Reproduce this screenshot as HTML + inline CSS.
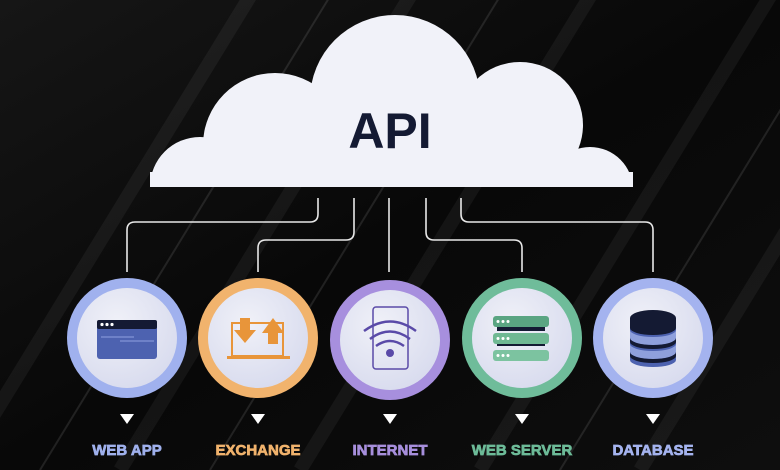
<!DOCTYPE html>
<html><head><meta charset="utf-8"><style>
html,body{margin:0;padding:0;width:780px;height:470px;overflow:hidden;background:#070707}
svg{display:block}
</style></head><body>
<svg width="780" height="470" viewBox="0 0 780 470" xmlns="http://www.w3.org/2000/svg">
<defs>
<linearGradient id="bg" x1="0" y1="0" x2="1" y2="1">
<stop offset="0" stop-color="#161616"/><stop offset="0.5" stop-color="#080808"/><stop offset="1" stop-color="#0e0e0e"/>
</linearGradient>
<radialGradient id="inner" cx="0.4" cy="0.35" r="0.7">
<stop offset="0" stop-color="#f0f1f8"/><stop offset="1" stop-color="#d8dbee"/>
</radialGradient>
<clipPath id="cc"><rect x="140" y="0" width="500" height="187"/></clipPath>
</defs>
<rect width="780" height="470" fill="url(#bg)"/>
<g stroke="#ffffff" stroke-opacity="0.05" stroke-width="14">
<line x1="-40" y1="470" x2="260" y2="-20"/>
<line x1="120" y1="470" x2="420" y2="-20"/>
<line x1="300" y1="470" x2="600" y2="-20"/>
<line x1="480" y1="470" x2="780" y2="-20"/>
<line x1="640" y1="470" x2="940" y2="-20"/>
</g>
<g stroke="#ffffff" stroke-opacity="0.1" stroke-width="2">
<line x1="40" y1="470" x2="340" y2="-20"/>
<line x1="210" y1="470" x2="510" y2="-20"/>
<line x1="560" y1="470" x2="860" y2="-20"/>
</g>
<!-- cloud -->
<g fill="#f1f2f9" clip-path="url(#cc)">
<circle cx="200" cy="187" r="50"/>
<circle cx="275" cy="145" r="72"/>
<circle cx="395" cy="100" r="85"/>
<circle cx="520" cy="125" r="63"/>
<circle cx="590" cy="190" r="43"/>
<polygon points="200,187 275,145 395,100 520,125 590,190"/>
<rect x="150" y="172" width="483" height="15"/>
</g>
<text x="390" y="148" text-anchor="middle" font-size="50" fill="#141a33" font-family="Liberation Sans, sans-serif" font-weight="bold">API</text>
<!-- connectors -->
<g fill="none" stroke="#e8e8e8" stroke-width="1.6">
<path d="M318 198 V214 Q318 222 310 222 H135 Q127 222 127 230 V272"/>
<path d="M354 198 V232 Q354 240 346 240 H266 Q258 240 258 248 V272"/>
<path d="M389 198 V272"/>
<path d="M426 198 V232 Q426 240 434 240 H514 Q522 240 522 248 V272"/>
<path d="M461 198 V214 Q461 222 469 222 H645 Q653 222 653 230 V272"/>
</g>
<!-- circles -->
<g>
<circle cx="127" cy="338" r="60" fill="#a0b1ee"/><circle cx="127" cy="338" r="50" fill="url(#inner)"/>
<circle cx="258" cy="338" r="60" fill="#f1b36d"/><circle cx="258" cy="338" r="50" fill="url(#inner)"/>
<circle cx="390" cy="340" r="60" fill="#a78fde"/><circle cx="390" cy="340" r="50" fill="url(#inner)"/>
<circle cx="522" cy="338" r="60" fill="#6fbc9a"/><circle cx="522" cy="338" r="50" fill="url(#inner)"/>
<circle cx="653" cy="338" r="60" fill="#a4b3ef"/><circle cx="653" cy="338" r="50" fill="url(#inner)"/>
</g>
<!-- web app icon -->
<rect x="97" y="320" width="60" height="39" rx="3" fill="#4d62b0"/>
<rect x="97" y="320" width="60" height="9" rx="2" fill="#141a33"/>
<circle cx="102" cy="324.5" r="1.6" fill="#fff"/><circle cx="107" cy="324.5" r="1.6" fill="#fff"/><circle cx="112" cy="324.5" r="1.6" fill="#fff"/>
<line x1="101" y1="337" x2="134" y2="337" stroke="#8fa0e0" stroke-width="1"/>
<line x1="120" y1="341" x2="154" y2="341" stroke="#8fa0e0" stroke-width="1"/>
<!-- exchange icon -->
<rect x="232" y="323" width="51" height="33" fill="none" stroke="#e8953a" stroke-width="2"/>
<rect x="227" y="356" width="63" height="3" fill="#e8953a"/>
<path d="M240 318 H250 V330 H256 L245 343 L234 330 H240Z" fill="#e8953a"/>
<path d="M268 344 H278 V333 H284 L273 318 L262 333 H268Z" fill="#e8953a"/>
<!-- internet icon -->
<rect x="373" y="307" width="35" height="62" rx="3" fill="none" stroke="#5a4aa8" stroke-width="1.5"/>
<path d="M364 331 Q390 312 416 331" fill="none" stroke="#5a4aa8" stroke-width="2.5"/>
<path d="M370 339 Q390 324 410 339" fill="none" stroke="#5a4aa8" stroke-width="2.5"/>
<path d="M376 346 Q390 336 404 346" fill="none" stroke="#5a4aa8" stroke-width="2.5"/>
<circle cx="390" cy="353" r="4" fill="#5a4aa8"/>
<!-- web server icon -->
<rect x="497" y="321" width="48" height="10" fill="#141a33"/>
<rect x="497" y="338" width="48" height="8" fill="#141a33"/>
<rect x="493" y="316" width="56" height="11" rx="3" fill="#5aa582"/>
<rect x="493" y="333" width="56" height="11" rx="3" fill="#6fb893"/>
<rect x="493" y="350" width="56" height="11" rx="3" fill="#7cc3a0"/>
<g fill="#fff"><circle cx="498" cy="321.5" r="1.5"/><circle cx="503" cy="321.5" r="1.5"/><circle cx="508" cy="321.5" r="1.5"/>
<circle cx="498" cy="338.5" r="1.5"/><circle cx="503" cy="338.5" r="1.5"/><circle cx="508" cy="338.5" r="1.5"/>
<circle cx="498" cy="355.5" r="1.5"/><circle cx="503" cy="355.5" r="1.5"/><circle cx="508" cy="355.5" r="1.5"/></g>
<!-- database icon -->
<path d="M630 318 V360 A23 7 0 0 0 676 360 V318Z" fill="#4d62b0"/>
<path d="M630 330 A23 7 0 0 0 676 330 V338 A23 7 0 0 1 630 338Z" fill="#8fa0dc"/>
<path d="M630 344 A23 7 0 0 0 676 344 V352 A23 7 0 0 1 630 352Z" fill="#8fa0dc"/>
<ellipse cx="653" cy="318" rx="23" ry="8" fill="#141a33"/>
<path d="M630 318 V328 A23 7 0 0 0 676 328 V318Z" fill="#141a33"/>
<path d="M630 338 V342 A23 7 0 0 0 676 342 V338 A23 7 0 0 1 630 338Z" fill="#141a33"/>
<path d="M630 352 V356 A23 7 0 0 0 676 356 V352 A23 7 0 0 1 630 352Z" fill="#141a33"/>
<!-- triangles -->
<g fill="#ffffff">
<path d="M120 414 H134 L127 424Z"/><path d="M251 414 H265 L258 424Z"/>
<path d="M383 414 H397 L390 424Z"/><path d="M515 414 H529 L522 424Z"/>
<path d="M646 414 H660 L653 424Z"/>
</g>
<!-- labels -->
<g font-size="15" text-anchor="middle" font-family="Liberation Sans, sans-serif" font-weight="bold" stroke-width="0.7">
<text x="127" y="455" fill="#9fb0ec" stroke="#9fb0ec">WEB APP</text>
<text x="258" y="455" fill="#f0b26c" stroke="#f0b26c">EXCHANGE</text>
<text x="390" y="455" fill="#a78fdc" stroke="#a78fdc">INTERNET</text>
<text x="522" y="455" fill="#6dbb98" stroke="#6dbb98">WEB SERVER</text>
<text x="653" y="455" fill="#a4b3ee" stroke="#a4b3ee">DATABASE</text>
</g>
</svg>
</body></html>
